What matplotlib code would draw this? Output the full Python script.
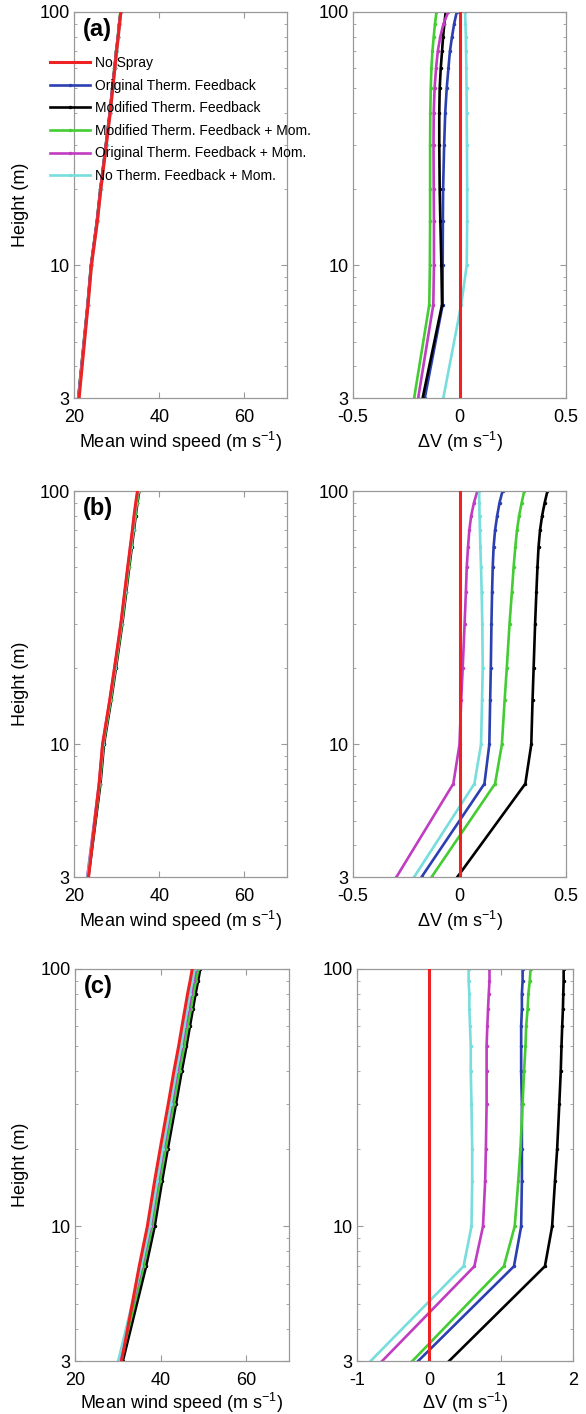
import matplotlib
matplotlib.use('Agg')
import matplotlib.pyplot as plt
from matplotlib.ticker import NullFormatter

plt.rcParams['font.family'] = ['Liberation Sans', 'DejaVu Sans']
plt.rcParams['mathtext.fontset'] = 'custom'
plt.rcParams['mathtext.rm'] = 'Liberation Sans'
plt.rcParams['mathtext.it'] = 'Liberation Sans:italic'
plt.rcParams['mathtext.bf'] = 'Liberation Sans:bold'

# heights (m)
heights = [3, 7, 10, 15, 20, 30, 40, 50, 60, 70, 80, 90, 100]

labels = ['No Spray', 'Original Therm. Feedback', 'Modified Therm. Feedback',
          'Modified Therm. Feedback + Mom.', 'Original Therm. Feedback + Mom.',
          'No Therm. Feedback + Mom.']
colors = ['#ee2222', '#2b3fb0', '#000000', '#44cc33', '#c03cc0', '#77dddd']

# mean wind speed without spray (m/s)
v_nospray_a = [21.2, 23.3, 24.1, 25.5, 26.3, 27.6, 28.5, 29.1, 29.6, 30.0, 30.4, 30.7, 31.0]
v_nospray_b = [23.4, 25.9, 26.7, 28.4, 29.5, 31.0, 31.9, 32.6, 33.2, 33.7, 34.1, 34.5, 34.9]
v_nospray_c = [30.9, 35.0, 36.9, 38.6, 39.9, 41.8, 43.1, 44.2, 45.0, 45.7, 46.3, 46.9, 47.4]

# delta V relative to no spray (m/s), order: orig, mod, mod+mom, orig+mom, no therm+mom
dv_a = [
    [-0.163, -0.079, -0.079, -0.078, -0.077, -0.072, -0.067, -0.060, -0.052, -0.045, -0.035, -0.025, -0.013],
    [-0.173, -0.082, -0.085, -0.090, -0.093, -0.095, -0.095, -0.093, -0.088, -0.082, -0.077, -0.071, -0.065],
    [-0.213, -0.142, -0.139, -0.138, -0.138, -0.138, -0.137, -0.135, -0.132, -0.127, -0.121, -0.115, -0.108],
    [-0.194, -0.123, -0.120, -0.120, -0.121, -0.122, -0.121, -0.117, -0.110, -0.102, -0.090, -0.075, -0.053],
    [-0.076, 0.008, 0.034, 0.036, 0.036, 0.035, 0.034, 0.033, 0.032, 0.031, 0.030, 0.028, 0.026],
]
dv_b = [
    [-0.178, 0.117, 0.140, 0.144, 0.147, 0.150, 0.153, 0.156, 0.160, 0.167, 0.177, 0.188, 0.202],
    [-0.010, 0.309, 0.337, 0.343, 0.348, 0.355, 0.361, 0.366, 0.371, 0.378, 0.388, 0.400, 0.413],
    [-0.131, 0.167, 0.199, 0.212, 0.222, 0.235, 0.246, 0.254, 0.262, 0.270, 0.280, 0.292, 0.304],
    [-0.296, -0.029, 0.000, 0.008, 0.015, 0.024, 0.030, 0.034, 0.040, 0.046, 0.055, 0.068, 0.084],
    [-0.213, 0.070, 0.101, 0.106, 0.109, 0.107, 0.104, 0.101, 0.098, 0.096, 0.094, 0.093, 0.092],
]
dv_c = [
    [-0.15, 1.18, 1.28, 1.29, 1.29, 1.29, 1.28, 1.28, 1.28, 1.29, 1.29, 1.30, 1.30],
    [0.28, 1.61, 1.71, 1.75, 1.78, 1.81, 1.83, 1.84, 1.85, 1.86, 1.865, 1.87, 1.87],
    [-0.23, 1.04, 1.19, 1.24, 1.27, 1.30, 1.32, 1.34, 1.35, 1.37, 1.38, 1.40, 1.41],
    [-0.65, 0.63, 0.75, 0.78, 0.79, 0.80, 0.80, 0.80, 0.81, 0.82, 0.83, 0.84, 0.84],
    [-0.81, 0.48, 0.59, 0.60, 0.60, 0.59, 0.58, 0.58, 0.57, 0.56, 0.56, 0.55, 0.55],
]

panels = [
    ('(a)', v_nospray_a, dv_a, (-0.5, 0.5), [-0.5, 0, 0.5], ['-0.5', '0', '0.5']),
    ('(b)', v_nospray_b, dv_b, (-0.5, 0.5), [-0.5, 0, 0.5], ['-0.5', '0', '0.5']),
    ('(c)', v_nospray_c, dv_c, (-1, 2), [-1, 0, 1, 2], ['-1', '0', '1', '2']),
]

W, H = 586, 1414
# axes boxes in pixels: (left, top, width, height)
boxes = [
    [(74, 12, 213, 386), (353, 12, 213, 386)],
    [(74, 491, 213, 386), (353, 491, 213, 386)],
    [(75, 969, 214, 392), (357, 969, 216, 392)],
]

fig = plt.figure(figsize=(W / 100, H / 100), dpi=100)


def style(ax):
    ax.set_yscale('log')
    ax.set_ylim(3, 100)
    ax.set_yticks([3, 10, 100])
    ax.set_yticklabels(['3', '10', '100'])
    ax.yaxis.set_minor_formatter(NullFormatter())
    for s in ax.spines.values():
        s.set_color('#999999')
        s.set_linewidth(0.9)
    ax.tick_params(which='both', direction='in', top=True, right=True,
                   color='#999999', labelsize=13)
    ax.tick_params(which='major', length=4)
    ax.tick_params(which='minor', length=2.2)
    ax.tick_params(axis='x', pad=8)
    ax.tick_params(axis='y', pad=3)


for i, (tag, vbase, dvs, xlim, xt, xtl) in enumerate(panels):
    (l1, t1, w1, h1), (l2, t2, w2, h2) = boxes[i]
    ax1 = fig.add_axes([l1 / W, 1 - (t1 + h1) / H, w1 / W, h1 / H])
    ax2 = fig.add_axes([l2 / W, 1 - (t2 + h2) / H, w2 / W, h2 / H])

    # spray experiments
    for k, dv in enumerate(dvs):
        vv = [b + d for b, d in zip(vbase, dv)]
        ax1.plot(vv, heights, color=colors[k + 1], lw=1.9, marker='.', ms=3,
                 label=labels[k + 1])
        ax2.plot(dv, heights, color=colors[k + 1], lw=1.9, marker='.', ms=3)
    ax1.plot(vbase, heights, color=colors[0], lw=2.2, zorder=5, label=labels[0])
    ax2.plot([0] * len(heights), heights, color=colors[0], lw=2.2, zorder=5)

    style(ax1)
    style(ax2)
    ax1.set_xlim(20, 70)
    ax1.set_xticks([20, 40, 60])
    ax2.set_xlim(*xlim)
    ax2.set_xticks(xt)
    ax2.set_xticklabels(xtl)

    lp = 1 if i == 2 else 2.5
    ax1.set_xlabel(r'Mean wind speed (m s$^{-1}$)', fontsize=13, labelpad=lp)
    ax2.set_xlabel(r'$\Delta$V (m s$^{-1}$)', fontsize=13, labelpad=lp)
    ax1.set_ylabel('Height (m)', fontsize=13)
    ax1.yaxis.set_label_coords((29 - l1) / w1, 0.5)

    ax1.text(0.04, 0.985, tag, transform=ax1.transAxes, fontsize=17,
             fontweight='bold', ha='left', va='top')

    if i == 0:
        h, lb = ax1.get_legend_handles_labels()
        order = [5, 0, 1, 2, 3, 4]
        ax1.legend([h[j] for j in order], [lb[j] for j in order],
                   loc='upper left', bbox_to_anchor=(50 / W, 1 - 56 / H),
                   bbox_transform=fig.transFigure, frameon=False, fontsize=10,
                   borderpad=0, borderaxespad=0, handlelength=2.9,
                   handletextpad=0.35, labelspacing=0.62, numpoints=1)

fig.savefig('out.png', dpi=100)
